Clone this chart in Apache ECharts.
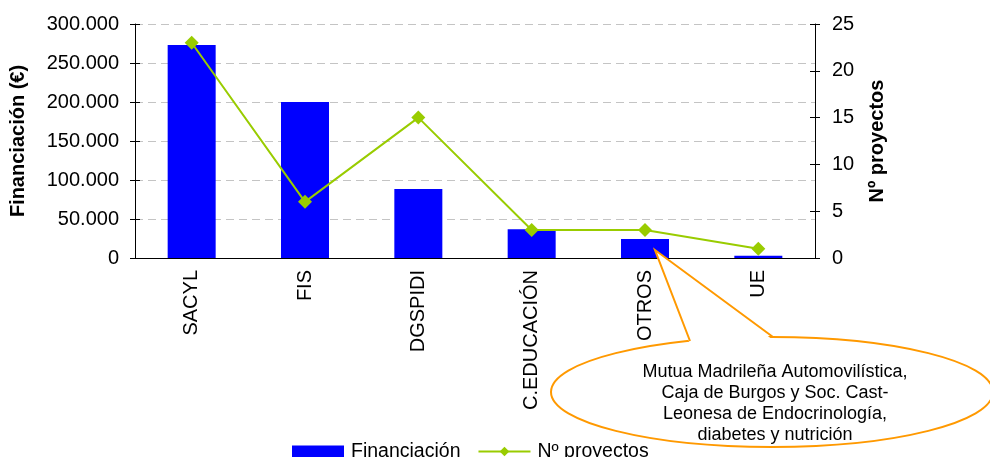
<!DOCTYPE html>
<html>
<head>
<meta charset="utf-8">
<script src="https://cdn.jsdelivr.net/npm/echarts@6/dist/echarts.min.js"></script>
<style>
html,body{margin:0;padding:0;background:#fff;}
#c{width:990px;height:457px;}
</style>
</head>
<body>
<div id="c"></div>
<script>
const categories = ['SACYL', 'FIS', 'DGSPIDI', 'C.EDUCACIÓN', 'OTROS', 'UE'];
const financiacion = [273000, 200000, 88500, 37000, 24500, 3000];
const proyectos = [23, 6, 15, 3, 3, 1];
const leftAxis = { min: 0, max: 300000, interval: 50000 };
const rightAxis = { min: 0, max: 25, interval: 5 };
const calloutText = 'Mutua Madrileña Automovilística,\nCaja de Burgos y Soc. Cast-\nLeonesa de Endocrinología,\ndiabetes y nutrición';

const FONT = "'Liberation Sans', Arial, sans-serif";
const fmt = v => String(v).replace(/\B(?=(\d{3})+(?!\d))/g, '.');

const chart = echarts.init(document.getElementById('c'));
const black = '#000';
chart.setOption({
  animation: false,
  textStyle: { fontFamily: FONT },
  grid: { left: 135, right: 175, top: 24, bottom: 199 },
  legend: {
    left: 287, top: 436.5, padding: 5,
    itemWidth: 52, itemHeight: 12, itemGap: 17,
    textStyle: { fontFamily: FONT, fontSize: 19.5, color: black, padding: [0, 0, 0, 2] },
    data: [{ name: 'Financiación', icon: 'rect' }, { name: 'Nº proyectos' }]
  },
  xAxis: [{
    type: 'category', data: categories, position: 'bottom',
    axisLine: { lineStyle: { color: black, width: 1 } },
    axisTick: { length: 5, lineStyle: { color: black } },
    axisLabel: { rotate: 90, margin: 12, fontSize: 20, color: black, interval: 0, fontFamily: FONT }
  }, {
    type: 'category', data: categories, position: 'bottom',
    axisLine: { show: false },
    axisTick: { inside: true, length: 5, lineStyle: { color: black } },
    axisLabel: { show: false }
  }],
  yAxis: [{
    type: 'value', position: 'left', min: leftAxis.min, max: leftAxis.max, interval: leftAxis.interval,
    name: 'Financiación (€)', nameLocation: 'middle', nameGap: 107,
    nameTextStyle: { fontFamily: FONT, fontSize: 20, fontWeight: 'bold', color: black },
    axisLine: { show: true, lineStyle: { color: black } },
    axisTick: { show: true, length: 5, lineStyle: { color: black } },
    axisLabel: { margin: 16, fontSize: 20, color: black, formatter: fmt, fontFamily: FONT },
    splitLine: { show: true, lineStyle: { color: '#c4c4c4', type: [8, 5], width: 1 } }
  }, {
    type: 'value', position: 'right', min: rightAxis.min, max: rightAxis.max, interval: rightAxis.interval,
    name: 'Nº proyectos', nameLocation: 'middle', nameGap: 52,
    nameTextStyle: { fontFamily: FONT, fontSize: 20, fontWeight: 'bold', color: black },
    axisLine: { show: true, lineStyle: { color: black } },
    axisTick: { show: true, length: 5, lineStyle: { color: black } },
    axisLabel: { margin: 17, fontSize: 20, color: black, fontFamily: FONT },
    splitLine: { show: false }
  }, {
    type: 'value', position: 'left', min: leftAxis.min, max: leftAxis.max, interval: leftAxis.interval,
    axisLine: { show: false }, axisLabel: { show: false }, splitLine: { show: false },
    axisTick: { show: true, inside: true, length: 5, lineStyle: { color: black } }
  }, {
    type: 'value', position: 'right', min: rightAxis.min, max: rightAxis.max, interval: rightAxis.interval,
    axisLine: { show: false }, axisLabel: { show: false }, splitLine: { show: false },
    axisTick: { show: true, inside: true, length: 5, lineStyle: { color: black } }
  }],
  series: [{
    name: 'Financiación', type: 'bar', xAxisIndex: 0, yAxisIndex: 0,
    data: financiacion, barWidth: 48,
    itemStyle: { color: '#0000FF' }
  }, {
    name: 'Nº proyectos', type: 'line', xAxisIndex: 0, yAxisIndex: 1,
    data: proyectos, symbol: 'diamond', symbolSize: 14,
    lineStyle: { color: '#99CC00', width: 2 },
    itemStyle: { color: '#99CC00' }
  }],
  graphic: [{
    type: 'ellipse', z: 100,
    shape: { cx: 772, cy: 392, rx: 221, ry: 55 },
    style: { fill: '#fff', stroke: '#FF9900', lineWidth: 2 }
  }, {
    type: 'polygon', z: 101,
    shape: { points: [[655, 250], [690, 344], [773, 340]] },
    style: { fill: '#fff', stroke: null }
  }, {
    type: 'polyline', z: 102,
    shape: { points: [[690, 341], [655, 250], [773, 337]] },
    style: { fill: null, stroke: '#FF9900', lineWidth: 2 }
  }, {
    type: 'text', z: 103, x: 775, y: 362,
    style: { text: calloutText, fontFamily: FONT, fontSize: 18, lineHeight: 21, fill: '#000', textAlign: 'center', textVerticalAlign: 'top' }
  }]
});
</script>
</body>
</html>
